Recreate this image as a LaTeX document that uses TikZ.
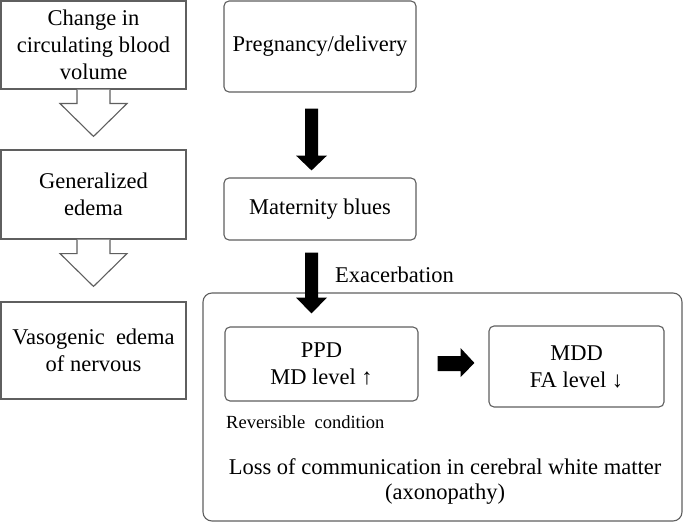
\documentclass[tikz,border=0pt]{standalone}
\usepackage{fontspec}
\setmainfont{Liberation Serif}
\usetikzlibrary{calc}
\definecolor{edge}{RGB}{95,95,95}
\tikzset{
  sqbox/.style={draw=edge, line width=1.1pt, fill=white, inner sep=0pt, align=center,
    font=\fontsize{22.5}{27}\selectfont},
  rbox/.style={sqbox, rounded corners=5pt},
  txt/.style={inner sep=0pt, align=center, font=\fontsize{22.5}{25}\selectfont},
  hollow/.style={draw=edge, line width=1.1pt, fill=white, line join=miter},
  solid/.style={fill=black, draw=none}
}
\begin{document}
\begin{tikzpicture}[x=1pt,y=-1pt]
\useasboundingbox (0,0) rectangle (685,524);
% left column
\node[sqbox, minimum width=185pt, minimum height=88pt] (b1) at (93.5,45) {Change in\\circulating blood\\volume};
\node[sqbox, minimum width=185pt, minimum height=89pt] (b2) at (93.5,194.5) {Generalized\\edema};
\node[sqbox, minimum width=185pt, minimum height=97pt] (b3) at (93.5,350.5) {Vasogenic\ \ edema\\of nervous};
% hollow arrows
\draw[hollow] ($(b1.south)+(-16.5,0)$) -- ($(b1.south)+(-16.5,14)$) -- ($(b1.south)+(-33.5,14)$)
  -- ($(b2.north)+(0,-13)$) -- ($(b1.south)+(33.5,14)$) -- ($(b1.south)+(16.5,14)$) -- ($(b1.south)+(16.5,0)$);
\draw[hollow] ($(b2.south)+(-16.5,0)$) -- ($(b2.south)+(-16.5,14)$) -- ($(b2.south)+(-33.5,14)$)
  -- ($(b3.north)+(0,-15)$) -- ($(b2.south)+(33.5,14)$) -- ($(b2.south)+(16.5,14)$) -- ($(b2.south)+(16.5,0)$);
% right column
\node[rbox, minimum width=192pt, minimum height=91pt] (preg) at (320,46.5) {Pregnancy/delivery};
\node[rbox, minimum width=192pt, minimum height=62pt] (mat) at (320,209) {Maternity blues};
\node[draw=edge, line width=1.1pt, rounded corners=9pt, inner sep=0pt, minimum width=479pt, minimum height=228pt] (big) at (442.5,407) {};
\node[rbox, minimum width=193pt, minimum height=74pt] (ppd) at (321.5,364) {PPD\\MD level ↑};
\node[rbox, minimum width=175pt, minimum height=81pt] (mdd) at (576.5,366.5) {MDD\\FA level ↓};
% black arrows
\fill[solid] ($(preg.south)+(-15,16)$) -- ($(preg.south)+(-15,63)$) -- ($(preg.south)+(-24,63)$)
  -- ($(mat.north)+(-8.5,-7)$) -- ($(preg.south)+(7,63)$) -- ($(preg.south)+(-2,63)$) -- ($(preg.south)+(-2,16)$) -- cycle;
\fill[solid] ($(mat.south)+(-15,12)$) -- ($(mat.south)+(-15,57)$) -- ($(mat.south)+(-24,57)$)
  -- ($(ppd.north)+(-10,-13)$) -- ($(mat.south)+(7,57)$) -- ($(mat.south)+(-2,57)$) -- ($(mat.south)+(-2,12)$) -- cycle;
\fill[solid] ($(ppd.east)+(19,-8)$) -- ($(ppd.east)+(42,-8)$) -- ($(ppd.east)+(42,-16)$)
  -- ($(mdd.west)+(-14,-3.5)$) -- ($(ppd.east)+(42,13)$) -- ($(ppd.east)+(42,7)$) -- ($(ppd.east)+(19,7)$) -- cycle;
% labels
\node[txt, anchor=west] (exa) at (335,275) {Exacerbation};
\node[txt, anchor=west, font=\fontsize{18.5}{22}\selectfont] (rev) at (226,422) {Reversible\ \ condition};
\node[txt] (loss) at (445,482) {Loss of communication in cerebral white matter\\(axonopathy)};
\end{tikzpicture}
\end{document}
